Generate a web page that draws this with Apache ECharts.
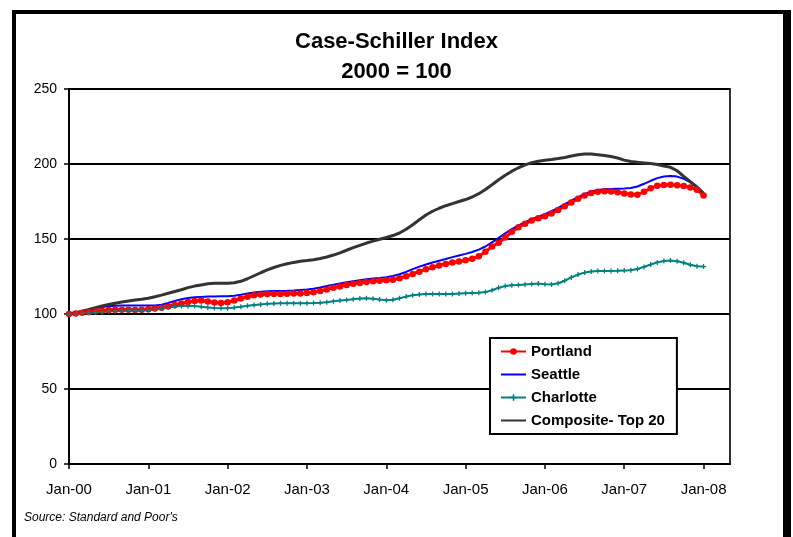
<!DOCTYPE html>
<html>
<head>
<meta charset="utf-8">
<title>Case-Schiller Index</title>
<script src="https://cdn.jsdelivr.net/npm/echarts@6/dist/echarts.min.js"></script>
<style>
  html, body { margin: 0; padding: 0; background: #fff; overflow: hidden; }
  #chart { position: absolute; left: 0; top: 0; width: 793px; height: 537px; }
  /* outer frame of the pasted chart (bottom edge is off the page) */
  .frame {
    position: absolute; left: 12px; top: 10px; width: 767px; height: 700px;
    border-top: 4px solid #000; border-left: 4px solid #000; border-right: 8px solid #000;
    pointer-events: none;
  }
</style>
</head>
<body>
<div id="chart"></div>
<div class="frame"></div>
<script>
// month labels Jan-00 .. May-08 (axis runs a little past the last value)
const monthNames = ['Jan', 'Feb', 'Mar', 'Apr', 'May', 'Jun', 'Jul', 'Aug', 'Sep', 'Oct', 'Nov', 'Dec']
const yearLabels = ['00', '01', '02', '03', '04', '05', '06', '07', '08']
const categories = []
yearLabels.forEach(y => monthNames.forEach(m => categories.push(m + '-' + y)))
categories.length = 101

// monthly index values, Jan-00 .. Jan-08
const portland = [
  100, 100.3, 100.8, 101.3, 101.8, 102.2, 102.6, 102.8, 102.8, 102.8, 102.7, 102.8,
  103.1, 103.6, 104.2, 105, 106, 107, 108, 108.7, 109, 108.4, 107.6, 107.4,
  107.8, 109, 110.3, 111.5, 112.5, 113, 113.3, 113.4, 113.4, 113.5, 113.6, 113.7,
  114, 114.5, 115.4, 116.4, 117.5, 118.4, 119.3, 120.1, 120.7, 121.3, 121.8, 122.2,
  122.5, 122.9, 123.8, 125.2, 126.7, 128.2, 129.8, 131.1, 132.3, 133.4, 134.3, 135,
  135.8, 136.8, 138.5, 141.5, 145, 147.5, 151, 154.8, 157.8, 160.2, 162.3, 163.8,
  165.2, 167, 169.3, 171.8, 174.3, 176.8, 179, 180.6, 181.5, 181.8, 181.7, 181.2,
  180.4, 179.6, 179.5, 181.5, 183.8, 185.5, 186, 186.1, 185.9, 185.3, 184.3, 182.9,
  179
]
const seattle = [
  100, 100.8, 101.8, 102.8, 103.8, 104.6, 105.2, 105.5, 105.6, 105.6, 105.6, 105.6,
  105.6, 105.7, 106.2, 107.3, 108.7, 109.8, 110.6, 111.1, 111.4, 111.6, 111.7, 111.8,
  111.9, 112.2, 112.8, 113.6, 114.3, 114.8, 115.1, 115.3, 115.4, 115.5, 115.7, 116,
  116.3, 116.9, 117.7, 118.6, 119.5, 120.3, 121.1, 121.8, 122.5, 123.1, 123.6, 124,
  124.5, 125.3, 126.5, 128.1, 129.9, 131.6, 133, 134.3, 135.5, 136.7, 137.9, 139,
  140.1, 141.3, 142.9, 145, 147.8, 150.8, 153.8, 156.6, 159.1, 161.3, 163.2, 164.8,
  166.5, 168.5, 170.8, 173.2, 175.6, 177.9, 180, 181.6, 182.6, 183.1, 183.3, 183.5,
  183.7, 184, 185, 186.8, 188.8, 190.6, 191.7, 192, 191.6, 190.2, 187.7, 184.4,
  180.2
]
const charlotte = [
  100, 100.2, 100.5, 100.8, 101.1, 101.4, 101.7, 101.9, 102.1, 102.2, 102.3, 102.4,
  102.6, 103.1, 103.8, 104.5, 105, 105.3, 105.4, 105.3, 104.9, 104.4, 104, 103.8,
  103.9, 104.3, 104.9, 105.5, 106, 106.4, 106.8, 107, 107.1, 107.1, 107.1, 107.1,
  107.2, 107.3, 107.5, 107.9, 108.5, 109, 109.4, 109.9, 110.3, 110.5, 110.2, 109.6,
  109.2, 109.5, 110.5, 111.6, 112.5, 113, 113.3, 113.3, 113.3, 113.3, 113.4, 113.6,
  113.8, 114, 114.2, 114.6, 115.8, 117.5, 118.6, 119.2, 119.4, 119.7, 120, 120.3,
  119.8, 119.7, 120.5, 122.2, 124.4, 126.3, 127.6, 128.3, 128.6, 128.7, 128.7, 128.8,
  129, 129.2, 130, 131.4, 133, 134.4, 135.3, 135.6, 135.2, 134.2, 132.8, 131.8,
  131.6
]
const composite = [
  100, 100.8, 101.8, 103, 104.2, 105.3, 106.3, 107.2, 108, 108.7, 109.3, 109.8,
  110.5, 111.5, 112.6, 113.8, 115, 116.2, 117.6, 118.6, 119.4, 120.2, 120.5, 120.5,
  120.5, 120.8, 121.8, 123.5, 125.5, 127.5, 129.4, 131, 132.4, 133.5, 134.4, 135.1,
  135.6, 136.2, 137, 138, 139.3, 140.8, 142.5, 144.2, 145.8, 147.3, 148.6, 149.8,
  151, 152.3, 154, 156.5, 159.5, 162.8, 166, 168.5, 170.5, 172.2, 173.6, 175,
  176.3, 178, 180.2, 183, 186.2, 189.5, 192.5, 195.2, 197.5, 199.4, 200.9, 201.8,
  202.5, 203, 203.6, 204.3, 205.3, 206.2, 206.7, 206.6, 206.2, 205.6, 205, 204,
  202.6, 201.7, 201.1, 200.7, 200.3, 199.6, 198.6, 197.8, 195.5, 191.8, 188.2, 184.7,
  180.5
]

const FONT = '"Liberation Sans", Arial, sans-serif'
const plusIcon = 'path://M-1,-4H1V-1H4V1H1V4H-1V1H-4V-1H-1Z'

const chart = echarts.init(document.getElementById('chart'))

const option = {
  animation: false,
  backgroundColor: 'transparent',
  textStyle: { fontFamily: FONT, color: '#000' },
  title: [
    {
      text: 'Case-Schiller Index\n2000 = 100',
      left: 'center',
      top: 22,
      textStyle: { fontFamily: FONT, fontSize: 22, fontWeight: 'bold', color: '#000', lineHeight: 30 }
    },
    {
      text: "Source: Standard and Poor's",
      left: 24,
      top: 512,
      padding: 0,
      textStyle: { fontFamily: FONT, fontSize: 12, fontStyle: 'italic', fontWeight: 'normal', color: '#000' }
    }
  ],
  legend: {
    orient: 'vertical',
    left: 490,
    top: 338,
    padding: [6, 12, 6, 10],
    itemGap: 8,
    itemWidth: 25,
    itemHeight: 8,
    backgroundColor: '#fff',
    borderColor: '#000',
    borderWidth: 2,
    textStyle: { fontFamily: FONT, fontSize: 15, fontWeight: 'bold', color: '#000', lineHeight: 15 },
    data: [
      { name: 'Portland' },
      { name: 'Seattle', itemStyle: { opacity: 0 } },
      { name: 'Charlotte' },
      { name: 'Composite- Top 20', itemStyle: { opacity: 0 } }
    ]
  },
  grid: {
    left: 69, right: 63, top: 89, bottom: 73,
    show: true, borderColor: '#333', borderWidth: 2
  },
  xAxis: {
    type: 'category',
    data: categories,
    boundaryGap: false,
    axisLine: { lineStyle: { color: '#000', width: 2 } },
    axisTick: {
      inside: false, length: 5,
      interval: i => i % 12 === 0,
      lineStyle: { color: '#000', width: 1.5 }
    },
    axisLabel: {
      interval: i => i % 12 === 0,
      margin: 18,
      fontFamily: FONT, fontSize: 15, color: '#000'
    },
    splitLine: { show: false }
  },
  yAxis: {
    type: 'value',
    min: 0, max: 250, interval: 50,
    axisLine: { show: true, lineStyle: { color: '#000', width: 2 } },
    axisTick: { show: true, length: 5, lineStyle: { color: '#000', width: 1.5 } },
    axisLabel: { margin: 12, fontFamily: FONT, fontSize: 14, color: '#000' },
    splitLine: { lineStyle: { color: '#000', width: 2 } }
  },
  series: [
    {
      name: 'Portland',
      type: 'line',
      data: portland,
      symbol: 'circle',
      symbolSize: 6.5,
      showAllSymbol: true,
      lineStyle: { color: '#ff0000', width: 3 },
      itemStyle: { color: '#ff0000' }
    },
    {
      name: 'Seattle',
      type: 'line',
      data: seattle,
      symbol: 'none',
      lineStyle: { color: '#0000ff', width: 2 },
      itemStyle: { color: '#0000ff' }
    },
    {
      name: 'Charlotte',
      type: 'line',
      data: charlotte,
      symbol: plusIcon,
      symbolSize: 5,
      showAllSymbol: true,
      lineStyle: { color: '#008080', width: 2 },
      itemStyle: { color: '#008080' }
    },
    {
      name: 'Composite- Top 20',
      type: 'line',
      data: composite,
      symbol: 'none',
      lineStyle: { color: '#333333', width: 3 },
      itemStyle: { color: '#333333' }
    }
  ]
}

chart.setOption(option)
</script>
</body>
</html>
